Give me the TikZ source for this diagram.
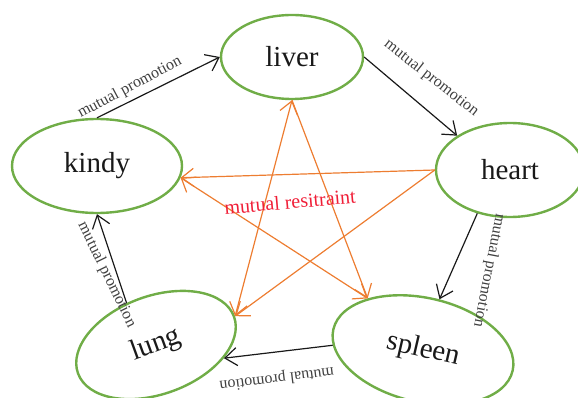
\documentclass[tikz,border=0pt]{standalone}
\usepackage{fontspec}
\setmainfont{Liberation Serif}
\usetikzlibrary{shapes.geometric,arrows.meta}

\definecolor{organgreen}{RGB}{112,173,71}
\definecolor{starorange}{RGB}{237,125,49}
\definecolor{restraintred}{RGB}{240,30,55}

\begin{document}
\begin{tikzpicture}[x=1pt, y=-1pt,
        >={Straight Barb[length=12pt,width=18pt]},
        organ/.style={ellipse, draw=organgreen, line width=2.4pt, inner sep=0pt,
                font=\fontsize{29}{32}\selectfont, text=black!90},
        promote/.style={black!90, line width=1.2pt, ->},
        restrain/.style={starorange, line width=1.2pt},
        promolabel/.style={font=\fontsize{16}{18}\selectfont, text=black!75, inner sep=0pt}]
\clip (0,0) rectangle (578,398);

\node[organ, minimum width=142pt, minimum height=84pt] (liver) at (292,57) {liver};
\node[organ, minimum width=170pt, minimum height=94pt] (kindy) at (97,166) {kindy};
\node[organ, minimum width=148pt, minimum height=94pt] (heart) at (510,170) {heart};
\node[organ, minimum width=166pt, minimum height=98pt, rotate=20] (lung) at (156,345) {lung};
\node[organ, minimum width=184pt, minimum height=104pt, rotate=-13] (spleen) at (423,350) {spleen};

% mutual promotion
\draw[promote] (kindy.north) -- (liver.west)
        node[promolabel, pos=0.3, shift={(-4,-12)}, rotate=28] (p1) {mutual promotion};
\draw[promote] (liver.east) -- (heart.147)
        node[promolabel, pos=0.55, shift={(16,-22)}, rotate=-38] (p2) {mutual promotion};
\draw[promote] (heart.233) -- (spleen.85)
        node[promolabel, pos=0.7, shift={(38,-3)}, rotate=-101] (p3) {mutual promotion};
\draw[promote] (spleen.190) -- (lung.-31)
        node[promolabel, pos=0.5, shift={(-1.5,27)}, rotate=187] (p4) {mutual promotion};
\draw[promote] (lung.105) -- (kindy.south)
        node[promolabel, pos=0.3, shift={(-11,-1.5)}, rotate=-64] (p5) {mutual promotion};

% mutual restraint
\draw[restrain, ->] (heart.west) -- (kindy.352);
\draw[restrain, ->] (heart.west) -- (lung.0);
\draw[restrain, ->] (liver.south) -- (spleen.150);
\draw[restrain, <->] (kindy.352) -- (spleen.150);
\draw[restrain, <->] (lung.0) -- (liver.south);

\node[font=\fontsize{20}{22}\selectfont, text=restraintred, rotate=5] (restraint) at (290,202) {mutual resitraint};
\end{tikzpicture}
\end{document}
